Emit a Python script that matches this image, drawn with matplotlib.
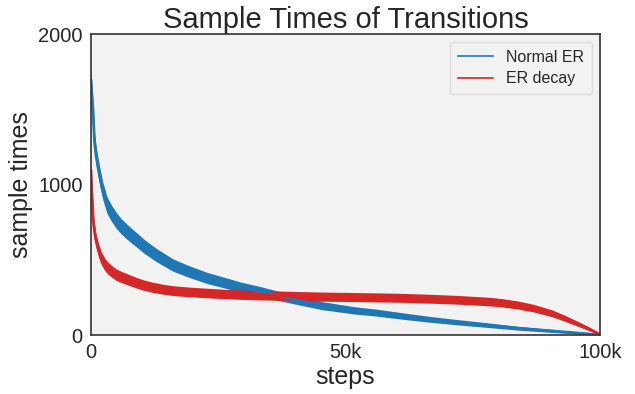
import matplotlib
matplotlib.use("Agg")
import matplotlib.pyplot as plt
import numpy as np
from matplotlib.lines import Line2D

plt.rcParams['font.family'] = ['Liberation Sans', 'DejaVu Sans']

# Values (steps, sample times) - centre of each noisy band
normal_steps = [0, 200, 400, 690, 1000, 1670, 2300, 3140, 4000, 5000, 6000, 7270, 8500,
                10600, 13000, 16100, 19000, 22800, 26000, 29300, 33200, 38700, 45400,
                51900, 55800, 61000, 66600, 72000, 78400, 83900, 90600, 95000, 97100, 100000]
normal_vals = [1690, 1580, 1490, 1283, 1190, 1063, 960, 864, 810, 760, 720, 680, 645,
               585, 528, 465, 425, 379, 350, 319, 290, 245, 195,
               163, 150, 127, 104, 85, 64, 45, 27, 15, 9, 0]

decay_steps = [0, 150, 300, 450, 650, 900, 1120, 1500, 2030, 2700, 3300, 4000, 5000, 6000,
               7300, 8700, 10200, 12000, 14000, 16100, 19000, 22800, 26000, 29300, 33200,
               39000, 45400, 50000, 55800, 61000, 66600, 72000, 78400, 81000, 83900, 87000,
               90600, 93000, 95100, 96700, 98000, 99200, 100000]
decay_vals = [1090, 960, 860, 760, 700, 640, 611, 560, 510, 470, 445, 425, 400, 385,
              368, 350, 333, 318, 305, 295, 287, 279, 273, 268, 264,
              260, 255, 253, 250, 247, 241, 234, 222, 213, 199, 178,
              144, 112, 82, 58, 38, 18, 0]

x_ticks = [0, 50000, 100000]
x_tick_labels = ['0', '50k', '100k']
y_ticks = [0, 1000, 2000]

blue = '#1f77b4'
red = '#d62728'
band_k = 1.9  # noisy band half-height ~ band_k * sqrt(value), data units (style)

fig = plt.figure(figsize=(6.35, 3.94), dpi=100)
ax = fig.add_axes([0.1433, 0.1497, 0.945 - 0.1433, 0.9137 - 0.1497])
ax.set_facecolor('#f2f2f2')

for xs, ys, c in [(normal_steps, normal_vals, blue), (decay_steps, decay_vals, red)]:
    xs = np.asarray(xs, float)
    ys = np.asarray(ys, float)
    half = band_k * np.sqrt(ys)
    ax.fill_between(xs, ys - half, ys + half, color=c, lw=0)
    ax.plot(xs, ys, color=c, lw=2.0, solid_joinstyle='round')

ax.set_xlim(0, 100000)
ax.set_ylim(0, 2000)
ax.set_xticks(x_ticks)
ax.set_xticklabels(x_tick_labels)
ax.set_yticks(y_ticks)
ax.tick_params(length=0, labelsize=14.5, pad=6, colors='#262626')
for s in ax.spines.values():
    s.set_color('#333333')
    s.set_linewidth(1.2)
    s.set_zorder(5)

ax.set_title('Sample Times of Transitions', fontsize=21, color='#262626', pad=4)
ax.set_xlabel('steps', fontsize=18, color='#262626', labelpad=2)
ax.set_ylabel('sample times', fontsize=18, color='#262626', labelpad=4)

handles = [Line2D([0], [0], color=blue, lw=1.2), Line2D([0], [0], color=red, lw=1.2)]
leg = ax.legend(handles, ['Normal ER', 'ER decay'], loc='upper right', fontsize=11.5,
                frameon=True, fancybox=True, facecolor='#f2f2f2', edgecolor='#dcdcdc',
                framealpha=1.0, handlelength=2.2, handletextpad=0.8,
                borderpad=0.5, labelspacing=0.4, borderaxespad=0.5)
leg.get_frame().set_linewidth(1.0)
for t in leg.get_texts():
    t.set_color('#262626')

fig.savefig('out.png', dpi=100)
